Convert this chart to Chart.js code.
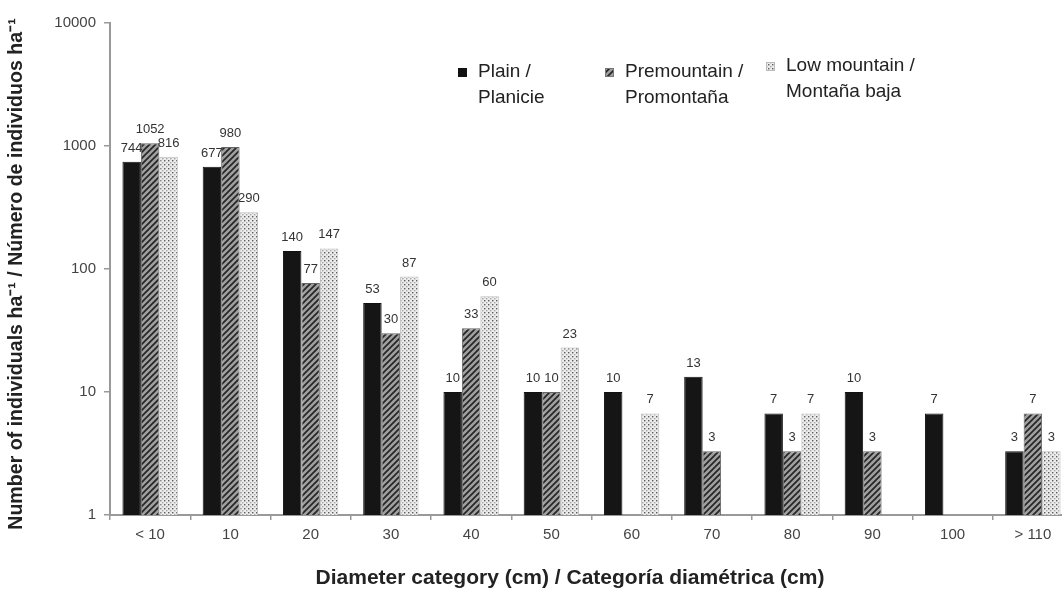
<!DOCTYPE html>
<html>
<head>
<meta charset="utf-8">
<script src="https://cdn.jsdelivr.net/npm/chart.js@4"></script>
<style>
  html, body { margin: 0; padding: 0; background: #fff; overflow: hidden; }
  #wrap { width: 1080px; height: 595px; }
</style>
</head>
<body>
<div id="wrap"><canvas id="chart" width="1080" height="595"></canvas></div>
<script>
// data
const categories = ['< 10', '10', '20', '30', '40', '50', '60', '70', '80', '90', '100', '> 110'];
const plain = [744, 677, 140, 53, 10, 10, 10, 13.3, 6.7, 10, 6.7, 3.3];
const premountain = [1052, 980, 77, 30, 33, 10, null, 3.3, 3.3, 3.3, null, 6.7];
const lowMountain = [816, 290, 147, 87, 60, 23, 6.7, null, 6.7, null, null, 3.3];
const yTicks = [1, 10, 100, 1000, 10000];

const FONT = '"Liberation Sans", Arial, sans-serif';
const X_TITLE = 'Diameter category (cm) / Categoría diamétrica (cm)';
const Y_TITLE = 'Number of individuals ha⁻¹ / Número de individuos ha⁻¹';

function makeHatch() {
    const c = document.createElement('canvas');
    c.width = 6; c.height = 6;
    const g = c.getContext('2d');
    g.fillStyle = '#a0a0a0';
    g.fillRect(0, 0, 6, 6);
    g.strokeStyle = '#262626';
    g.lineWidth = 1.7;
    g.beginPath();
    g.moveTo(-1, 7); g.lineTo(7, -1);
    g.moveTo(-4, 4); g.lineTo(4, -4);
    g.moveTo(2, 10); g.lineTo(10, 2);
    g.stroke();
    return g.createPattern(c, 'repeat');
}

function makeDots() {
    const c = document.createElement('canvas');
    c.width = 4; c.height = 4;
    const g = c.getContext('2d');
    g.fillStyle = '#ececec';
    g.fillRect(0, 0, 4, 4);
    g.fillStyle = '#5a5a5a';
    g.fillRect(0, 0, 1.4, 1.4);
    g.fillStyle = '#a5a5a5';
    g.fillRect(2, 2, 1.4, 1.4);
    return g.createPattern(c, 'repeat');
}

const ctx = document.getElementById('chart').getContext('2d');
const hatch = makeHatch();
const dots = makeDots();

// value labels above the bars
const barLabels = {
    id: 'barLabels',
    afterDatasetsDraw(chart) {
        const c = chart.ctx;
        c.save();
        c.font = '13px ' + FONT;
        c.fillStyle = '#333';
        c.textAlign = 'center';
        c.textBaseline = 'bottom';
        chart.data.datasets.forEach((ds, i) => {
            chart.getDatasetMeta(i).data.forEach((bar, j) => {
                const v = ds.data[j];
                if (v == null) return;
                c.fillText(Math.round(v), bar.x, bar.y - 7);
            });
        });
        c.restore();
    }
};

// two-line legend in the upper right, plus the axis titles
const legendItems = [
    { fill: '#111', border: '#111', lines: ['Plain /', 'Planicie'], x: 462, y: 72 },
    { fill: hatch, border: '#777', lines: ['Premountain /', 'Promontaña'], x: 609, y: 72 },
    { fill: dots, border: '#bbb', lines: ['Low mountain /', 'Montaña baja'], x: 770, y: 66 }
];
const extras = {
    id: 'extras',
    afterDraw(chart) {
        const c = chart.ctx;
        c.save();
        c.font = '19px ' + FONT;
        c.textBaseline = 'middle';
        legendItems.forEach(item => {
            c.fillStyle = item.fill;
            c.fillRect(item.x - 4, item.y - 4, 9, 9);
            c.strokeStyle = item.border;
            c.lineWidth = 1;
            c.strokeRect(item.x - 4 + 0.5, item.y - 4 + 0.5, 8, 8);
            c.fillStyle = '#222';
            item.lines.forEach((t, k) => c.fillText(t, item.x + 16, item.y + k * 26));
        });

        c.fillStyle = '#222';
        c.textAlign = 'center';
        c.font = 'bold 21px ' + FONT;
        c.fillText(X_TITLE, 570, 578);

        c.translate(17, 274);
        c.rotate(-Math.PI / 2);
        c.font = 'bold 19.6px ' + FONT;
        c.fillText(Y_TITLE, 0, 0);
        c.restore();
    }
};

new Chart(ctx, {
    type: 'bar',
    data: {
        labels: categories,
        datasets: [
            { label: 'Plain / Planicie', data: plain, backgroundColor: '#151515', borderColor: '#111', borderWidth: 1 },
            { label: 'Premountain / Promontaña', data: premountain, backgroundColor: hatch, borderColor: '#666', borderWidth: 1 },
            { label: 'Low mountain / Montaña baja', data: lowMountain, backgroundColor: dots, borderColor: '#bdbdbd', borderWidth: 1 }
        ]
    },
    options: {
        responsive: false,
        animation: false,
        layout: { padding: { top: 23, right: 7, left: 0, bottom: 0 } },
        datasets: {
            bar: { categoryPercentage: 0.69, barPercentage: 1.0 }
        },
        plugins: {
            legend: { display: false },
            tooltip: { enabled: false }
        },
        scales: {
            x: {
                grid: { display: true, drawOnChartArea: false, offset: true, color: '#999', tickLength: 5, lineWidth: 1.5 },
                border: { color: '#999', width: 2 },
                ticks: { color: '#444', font: { size: 15, family: FONT }, padding: 6 },
                afterFit(scale) { scale.height = 80; }
            },
            y: {
                type: 'logarithmic',
                min: 1,
                max: 10000,
                afterBuildTicks(scale) {
                    scale.ticks = yTicks.map(v => ({ value: v }));
                },
                grid: { display: true, drawOnChartArea: false, color: '#999', tickLength: 6, lineWidth: 1.5 },
                border: { color: '#999', width: 2 },
                ticks: {
                    color: '#444',
                    font: { size: 15, family: FONT },
                    padding: 8,
                    callback: v => String(v)
                },
                afterFit(scale) { scale.width = 110; }
            }
        }
    },
    plugins: [barLabels, extras]
});
</script>
</body>
</html>
